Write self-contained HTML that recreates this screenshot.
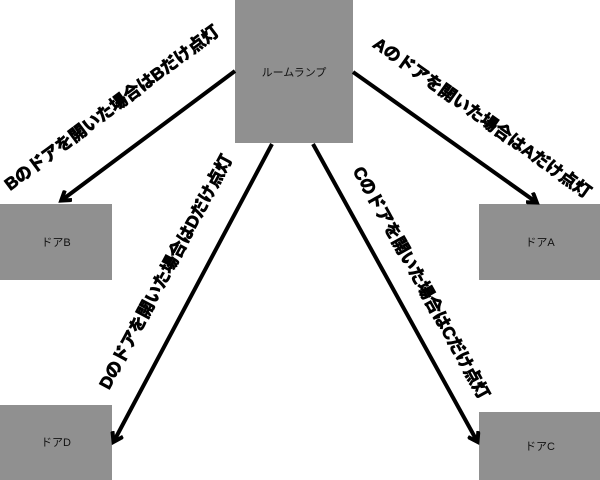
<!DOCTYPE html>
<html><head><meta charset="utf-8"><style>
html,body{margin:0;padding:0;background:#fff;}
svg{display:block;font-family:"Liberation Sans","Noto Sans CJK JP",sans-serif;}
</style></head><body>
<svg width="600" height="480" viewBox="0 0 600 480" xmlns="http://www.w3.org/2000/svg">
<defs>
<marker id="ah" markerWidth="14" markerHeight="14" refX="9" refY="7" orient="auto" markerUnits="userSpaceOnUse">
<path d="M1,1 L10,7 L1,13" fill="none" stroke="#000" stroke-width="4"/>
</marker>
</defs>
<rect x="235" y="0" width="118" height="143" fill="#909090"/>
<rect x="0" y="204" width="112" height="76" fill="#909090"/>
<rect x="479" y="204" width="121" height="76" fill="#909090"/>
<rect x="0" y="405" width="112" height="75" fill="#909090"/>
<rect x="479" y="412" width="121" height="68" fill="#909090"/>
<g font-size="11" fill="#111" text-anchor="middle">
<text x="294" y="76">ルームランプ</text>
<text x="56" y="246">ドアB</text>
<text x="540" y="246">ドアA</text>
<text x="56" y="446">ドアD</text>
<text x="540" y="450">ドアC</text>
</g>
<g stroke="#000" stroke-width="4" fill="none">
<line x1="235" y1="71" x2="62" y2="200" marker-end="url(#ah)"/>
<line x1="353" y1="72" x2="536" y2="202" marker-end="url(#ah)"/>
<line x1="313" y1="144" x2="477" y2="441" marker-end="url(#ah)"/>
<line x1="272" y1="144" x2="114" y2="441" marker-end="url(#ah)"/>
</g>
<g font-size="17" font-weight="bold" fill="#000" stroke="#000" stroke-width="0.8" text-anchor="middle" dominant-baseline="central">
<text transform="translate(112,108) rotate(-36.8)">Bのドアを開いた場合はBだけ点灯</text>
<text transform="translate(482,118) rotate(35.5)">Aのドアを開いた場合はAだけ点灯</text>
<text transform="translate(166,272) rotate(-61.9)">Dのドアを開いた場合はDだけ点灯</text>
<text transform="translate(421,283) rotate(61)">Cのドアを開いた場合はCだけ点灯</text>
</g>
</svg>
</body></html>
